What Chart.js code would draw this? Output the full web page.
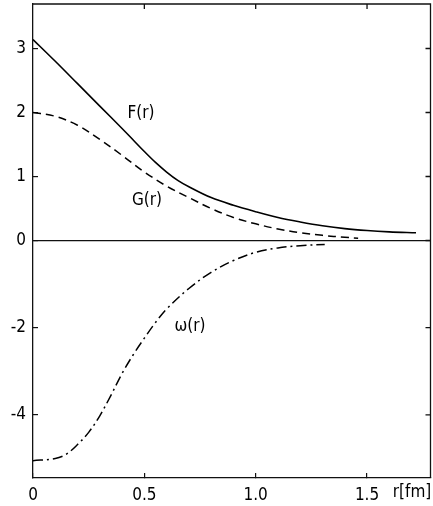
<!DOCTYPE html>
<html>
<head>
<meta charset="utf-8">
<script src="https://cdn.jsdelivr.net/npm/chart.js@4/dist/chart.umd.min.js"></script>
<style>
  html, body { margin: 0; padding: 0; background: #fff; }
  canvas { display: block; }
</style>
</head>
<body>
<canvas id="fieldChart" width="433" height="506"></canvas>
<script>
// radial profiles
const rF = [0, 0.1, 0.2, 0.3, 0.4, 0.45, 0.5, 0.55, 0.6, 0.65, 0.7, 0.8, 0.9, 1.0, 1.1, 1.2, 1.3, 1.4, 1.5, 1.6, 1.72];
const fValues = [3.14, 2.80, 2.45, 2.10, 1.75, 1.57, 1.39, 1.22, 1.07, 0.94, 0.84, 0.67, 0.55, 0.45, 0.36, 0.29, 0.23, 0.185, 0.155, 0.135, 0.12];

const rG = [0, 0.1, 0.2, 0.3, 0.4, 0.5, 0.6, 0.7, 0.8, 0.9, 1.0, 1.1, 1.2, 1.3, 1.4, 1.46];
const gValues = [2.0, 1.94, 1.80, 1.58, 1.33, 1.07, 0.85, 0.67, 0.50, 0.36, 0.26, 0.18, 0.12, 0.08, 0.05, 0.035];

const rW = [0, 0.1, 0.15, 0.2, 0.25, 0.3, 0.35, 0.4, 0.45, 0.5, 0.55, 0.6, 0.7, 0.8, 0.9, 1.0, 1.1, 1.2, 1.31];
const wValues = [-5.05, -5.00, -4.90, -4.68, -4.40, -4.02, -3.55, -3.05, -2.62, -2.24, -1.88, -1.57, -1.10, -0.73, -0.46, -0.27, -0.17, -0.12, -0.09];

const xTicks = [0, 0.5, 1.0, 1.5];
const xTickLabels = ['0', '0.5', '1.0', '1.5'];
const yTicksFG = [3, 2, 1, 0];
const yTicksW = [-2, -4];

// F,G axis and omega axis share the zero line but not the unit length
const Y_MIN = -3.711, Y_MAX = 3.695;
const W_MIN = -5.447, W_MAX = 5.424;
const K = Y_MAX / W_MAX;

const FONT = 'DejaVu Sans Condensed';

function pts(xs, ys) {
    return xs.map((x, i) => ({ x: x, y: ys[i] }));
}

const framePlugin = {
    id: 'frame',
    afterDraw(chart) {
        const ctx = chart.ctx;
        const a = chart.chartArea;
        const xs = chart.scales.x;
        const ys = chart.scales.y;
        const ws = chart.scales.w;
        ctx.save();
        ctx.strokeStyle = '#111';
        ctx.lineWidth = 1.3;
        ctx.beginPath();
        ctx.moveTo(a.left, a.top);
        ctx.lineTo(a.right, a.top);
        ctx.lineTo(a.right, a.bottom);
        ctx.stroke();

        // inward ticks on top and right
        ctx.beginPath();
        xTicks.slice(1).forEach(v => {
            const px = xs.getPixelForValue(v);
            ctx.moveTo(px, a.top);
            ctx.lineTo(px, a.top + 5);
        });
        yTicksFG.forEach(v => {
            const py = ys.getPixelForValue(v);
            ctx.moveTo(a.right, py);
            ctx.lineTo(a.right - 5, py);
        });
        yTicksW.forEach(v => {
            const py = ws.getPixelForValue(v);
            ctx.moveTo(a.right, py);
            ctx.lineTo(a.right - 5, py);
        });
        ctx.stroke();

        // curve labels
        ctx.fillStyle = '#000';
        ctx.font = '17px "' + FONT + '"';
        ctx.textAlign = 'center';
        ctx.textBaseline = 'middle';
        ctx.fillText('F(r)', xs.getPixelForValue(0.485), ys.getPixelForValue(1.98));
        ctx.fillText('G(r)', xs.getPixelForValue(0.512), ys.getPixelForValue(0.62));
        ctx.fillText('\u03c9(r)', xs.getPixelForValue(0.705), ws.getPixelForValue(-1.98));

        // axis name
        ctx.fillText('r[fm]', 412, 493);
        ctx.restore();
    }
};

document.addEventListener('DOMContentLoaded', () => {
    const ctx = document.getElementById('fieldChart').getContext('2d');
    new Chart(ctx, {
        type: 'line',
        data: {
            datasets: [
                {
                    label: 'F(r)',
                    data: pts(rF, fValues),
                    yAxisID: 'y',
                    borderColor: '#000',
                    borderWidth: 1.6,
                    pointRadius: 0,
                    fill: false,
                    tension: 0.35
                },
                {
                    label: 'G(r)',
                    data: pts(rG, gValues),
                    yAxisID: 'y',
                    borderColor: '#000',
                    borderWidth: 1.5,
                    borderDash: [8, 5],
                    pointRadius: 0,
                    fill: false,
                    tension: 0.35
                },
                {
                    label: '\u03c9(r)',
                    data: pts(rW, wValues),
                    yAxisID: 'w',
                    borderColor: '#000',
                    borderWidth: 1.5,
                    borderDash: [10, 4, 2, 4],
                    pointRadius: 0,
                    fill: false,
                    tension: 0.35
                }
            ]
        },
        options: {
            responsive: false,
            animation: false,
            devicePixelRatio: 1,
            layout: { padding: { top: 4, right: 2.5, left: 0, bottom: 0 } },
            plugins: {
                legend: { display: false },
                tooltip: { enabled: false }
            },
            scales: {
                x: {
                    type: 'linear',
                    position: 'bottom',
                    min: 0,
                    max: 1.785,
                    afterBuildTicks: s => { s.ticks = xTicks.map(v => ({ value: v })); },
                    afterFit: s => {
                        s.height = 28;
                        s.paddingLeft = 0;
                        s.paddingRight = 0;
                    },
                    border: { display: true, color: '#111', width: 1.3 },
                    grid: { drawOnChartArea: false, drawTicks: true, tickLength: -5, color: '#111', lineWidth: 1.2 },
                    ticks: {
                        color: '#000',
                        padding: 12,
                        maxRotation: 0,
                        font: { family: FONT, size: 17 },
                        callback: (v, i) => xTickLabels[i]
                    }
                },
                y: {
                    type: 'linear',
                    position: 'left',
                    min: Y_MIN,
                    max: Y_MAX,
                    afterBuildTicks: s => {
                        s.ticks = yTicksW.map(v => ({ value: v * K })).reverse()
                            .concat(yTicksFG.slice().reverse().map(v => ({ value: v })));
                    },
                    afterFit: s => {
                        s.width = 33;
                        s.paddingTop = 0;
                        s.paddingBottom = 0;
                    },
                    border: { display: true, color: '#111', width: 1.3 },
                    grid: {
                        drawOnChartArea: true,
                        drawTicks: true,
                        tickLength: -5,
                        lineWidth: 1.2,
                        tickColor: '#111',
                        color: c => (c.tick && c.tick.value === 0) ? '#111' : 'rgba(0,0,0,0)'
                    },
                    ticks: {
                        color: '#000',
                        padding: 12,
                        font: { family: FONT, size: 17 },
                        callback: v => v < 0 ? String(Math.round(v / K)) : String(v)
                    }
                },
                w: {
                    type: 'linear',
                    display: false,
                    min: W_MIN,
                    max: W_MAX
                }
            }
        },
        plugins: [framePlugin]
    });
});
</script>
</body>
</html>
